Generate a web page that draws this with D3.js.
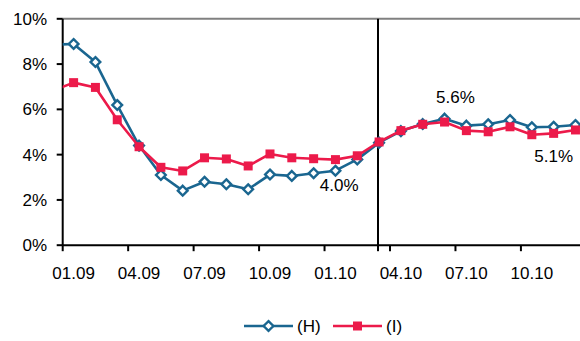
<!DOCTYPE html>
<html><head><meta charset="utf-8">
<script src="https://cdn.jsdelivr.net/npm/d3@7"></script>
<style>
html,body{margin:0;padding:0;background:#fff;}
svg{display:block;font-family:"Liberation Sans",Arial,sans-serif;}
</style></head>
<body><svg id="c" width="580" height="341"></svg>
<script>
const categories = ["01.09","02.09","03.09","04.09","05.09","06.09","07.09","08.09","09.09","10.09","11.09","12.09",
                    "01.10","02.10","03.10","04.10","05.10","06.10","07.10","08.10","09.10","10.10","11.10","12.10"];
const tickLabels = ["01.09","04.09","07.09","10.09","01.10","04.10","07.10","10.10"];
const prevH = 8.85, prevI = 6.80; // value of the preceding month (12.08), clipped at left edge
const seriesH = [8.89,8.09,6.19,4.40,3.10,2.41,2.80,2.69,2.47,3.12,3.06,3.18,3.29,3.79,4.53,5.04,5.35,5.59,5.28,5.34,5.53,5.21,5.23,5.31];
const seriesI = [7.18,6.97,5.54,4.35,3.44,3.28,3.86,3.81,3.50,4.03,3.86,3.82,3.78,3.95,4.56,5.06,5.34,5.44,5.06,5.01,5.23,4.88,4.94,5.09];
const yTicks = [0,2,4,6,8,10];
const dividerPos = 14.45; // category position of vertical divider
const annotations = [
  {pos:12.67, value:2.64, text:"4.0%"},
  {pos:18.0, value:6.53, text:"5.6%"},
  {pos:22.5, value:3.95, text:"5.1%"}
];
const legendItems = [{name:"(H)", key:"H"},{name:"(I)", key:"I"}];

(function(){
const colH = "#1A6690", colI = "#EC1A4A";
const svg = d3.select("#c");
const pLeft = 62.7, pTop = 18.8, pBottom = 245.2, step = 21.82;
const xi = d3.scaleLinear().domain([0, categories.length]).range([pLeft, pLeft + step*categories.length]);
const y = d3.scaleLinear().domain([0, 10]).range([pBottom, pTop]);
const fs = 17;

svg.append("defs").append("clipPath").attr("id","clip")
  .append("rect").attr("x", pLeft).attr("y", 0).attr("width", 600).attr("height", 341);

svg.append("line").attr("x1", pLeft).attr("x2", 580).attr("y1", y(10)).attr("y2", y(10))
  .attr("stroke", "#808080").attr("stroke-width", 2);

const yAxis = svg.append("g");
yAxis.append("line").attr("x1", pLeft).attr("x2", pLeft).attr("y1", y(10)).attr("y2", y(0)).attr("stroke","#000").attr("stroke-width",2);
yTicks.forEach(t => {
  yAxis.append("line").attr("x1", pLeft-6).attr("x2", pLeft).attr("y1", y(t)).attr("y2", y(t)).attr("stroke","#000").attr("stroke-width",2);
  yAxis.append("text").attr("x", 47).attr("y", y(t)+6).attr("text-anchor","end").attr("font-size",fs).attr("fill","#000").text(t + "%");
});

const xAxis = svg.append("g");
xAxis.append("line").attr("x1", pLeft).attr("x2", 580).attr("y1", y(0)).attr("y2", y(0)).attr("stroke","#000").attr("stroke-width",2);
tickLabels.forEach(lbl => {
  const i = categories.indexOf(lbl);
  xAxis.append("line").attr("x1", xi(i)).attr("x2", xi(i)).attr("y1", y(0)).attr("y2", y(0)+6).attr("stroke","#000").attr("stroke-width",2);
  xAxis.append("text").attr("x", xi(i+0.5)).attr("y", 278.5).attr("text-anchor","middle").attr("font-size",fs).attr("fill","#000").text(lbl);
});

svg.append("line").attr("x1", xi(dividerPos)).attr("x2", xi(dividerPos)).attr("y1", y(10)).attr("y2", y(0)+6)
  .attr("stroke","#000").attr("stroke-width",2);

function drawSeries(vals, prev, color, marker) {
  const pts = [[-1, prev]].concat(vals.map((v,i)=>[i,v]));
  const line = d3.line().x(d => xi(d[0]+0.5)).y(d => y(d[1]));
  svg.append("path").attr("clip-path","url(#clip)").attr("d", line(pts))
    .attr("fill","none").attr("stroke", color).attr("stroke-width", 2.6).attr("stroke-linejoin","round");
  const g = svg.append("g");
  vals.forEach((v,i) => {
    const cx = xi(i+0.5), cy = y(v);
    if (marker === "diamond") {
      g.append("path").attr("d", d3.symbol(d3.symbolDiamond2, 60)()).attr("transform", `translate(${cx},${cy})`)
        .attr("fill","#fff").attr("stroke", color).attr("stroke-width", 2.4);
    } else {
      g.append("rect").attr("x", cx-4.5).attr("y", cy-4.5).attr("width", 9).attr("height", 9).attr("fill", color);
    }
  });
}
drawSeries(seriesH, prevH, colH, "diamond");
drawSeries(seriesI, prevI, colI, "square");

annotations.forEach(a => {
  svg.append("text").attr("x", xi(a.pos)).attr("y", y(a.value)+6).attr("text-anchor","middle")
    .attr("font-size", fs).attr("fill","#000").text(a.text);
});

const lg = svg.append("g");
const lx = [244, 333];
legendItems.forEach((it, k) => {
  const c = it.key === "H" ? colH : colI;
  const x0 = lx[k], ly = 326;
  lg.append("line").attr("x1", x0).attr("x2", x0+49).attr("y1", ly).attr("y2", ly).attr("stroke", c).attr("stroke-width", 2.6);
  if (it.key === "H") {
    lg.append("path").attr("d", d3.symbol(d3.symbolDiamond2, 60)()).attr("transform", `translate(${x0+24.5},${ly})`)
      .attr("fill","#fff").attr("stroke", c).attr("stroke-width", 2.4);
  } else {
    lg.append("rect").attr("x", x0+24.5-4.5).attr("y", ly-4.5).attr("width", 9).attr("height", 9).attr("fill", c);
  }
  lg.append("text").attr("x", x0+53).attr("y", ly+6).attr("font-size", fs).attr("fill","#000").text(it.name);
});
})();
</script></body></html>
